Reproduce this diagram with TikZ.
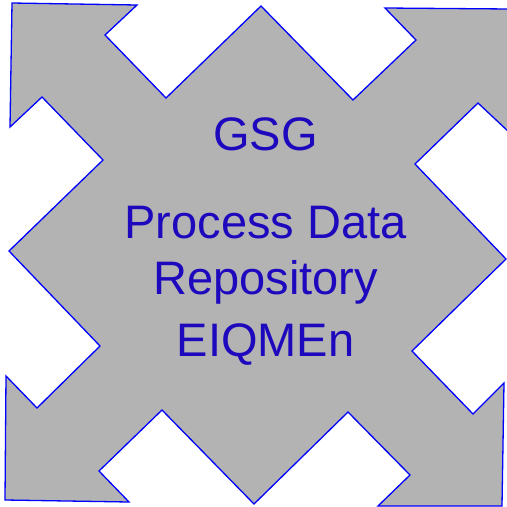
\documentclass[tikz,border=0pt]{standalone}
\usepackage{fontspec}
\setmainfont{Liberation Sans}
\definecolor{starfill}{RGB}{179,179,179}
\definecolor{staredge}{RGB}{0,0,255}
\definecolor{labelblue}{RGB}{30,8,190}
\begin{document}
\begin{tikzpicture}[x=1pt,y=-1pt,
  star/.style={fill=starfill,draw=staredge,line width=1.3pt,line join=miter},
  caption/.style={anchor=base,text=labelblue,inner sep=0pt,
    font=\fontsize{47}{56}\selectfont}]
\useasboundingbox (0,0) rectangle (507,507);
\clip (0,0) rectangle (507,507);
% four-way arrow star
\draw[star]
  (12,3) -- (137,5) -- (105,35) -- (166,98) -- (261,6) -- (353,100)
  -- (416,40) -- (385,8) -- (510,9) -- (510,133) -- (478,103) -- (415,164)
  -- (506,259) -- (412,351) -- (473,414) -- (504,383) -- (502,506)
  -- (378,506) -- (410,475) -- (348,412) -- (254,504) -- (162,410)
  -- (99,471) -- (129,502) -- (5,500) -- (6,376) -- (37,408) -- (100,346)
  -- (9,251) -- (103,160) -- (42,97) -- (10,127) -- cycle;
% labels
\node[caption] (gsg)  at (265.5,150) {GSG};
\node[caption] (proc) at (265.5,238) {Process Data};
\node[caption] (repo) at (265.5,294) {Repository};
\node[caption] (eiq)  at (265.5,356) {EIQMEn};
\end{tikzpicture}
\end{document}
